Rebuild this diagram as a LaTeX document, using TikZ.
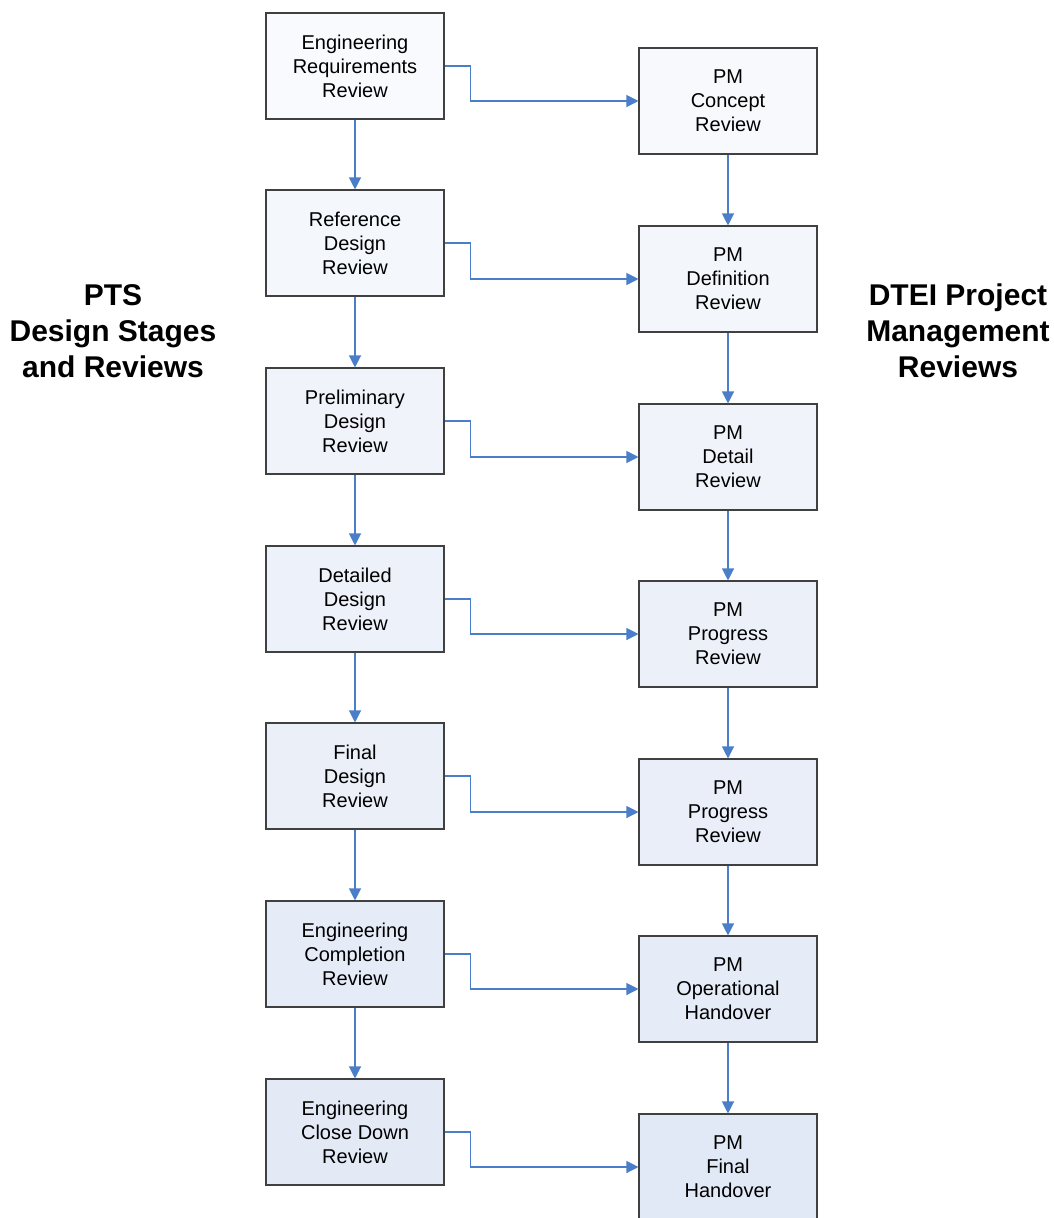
\documentclass[tikz,border=0pt]{standalone}
\usepackage{fontspec}
\setmainfont{Liberation Sans}
\usetikzlibrary{arrows.meta}
\definecolor{arr}{RGB}{74,126,200}
\definecolor{bfill}{RGB}{226,233,246}
\begin{document}
\begin{tikzpicture}[x=1pt,y=-1pt,
  box/.style={draw=black!75, line width=1.1pt, minimum width=178pt, minimum height=106pt,
    align=center, font=\fontsize{20}{24}\selectfont, inner sep=0pt},
  con/.style={draw=arr, line width=1.2pt, -{Triangle[length=12pt,width=12pt,fill=arr]}},
  title/.style={font=\bfseries\fontsize{30}{36}\selectfont, align=center}]
\useasboundingbox (0,0) rectangle (1053,1218);
% left column
\node[box, fill=bfill!25] (L1) at (355,66) {Engineering\\Requirements\\Review};
\node[box, fill=bfill!38] (L2) at (355,243) {Reference\\Design\\Review};
\node[box, fill=bfill!50] (L3) at (355,421) {Preliminary\\Design\\Review};
\node[box, fill=bfill!62] (L4) at (355,599) {Detailed\\Design\\Review};
\node[box, fill=bfill!74] (L5) at (355,776) {Final\\Design\\Review};
\node[box, fill=bfill!86] (L6) at (355,954) {Engineering\\Completion\\Review};
\node[box, fill=bfill!97] (L7) at (355,1132) {Engineering\\Close Down\\Review};
% right column
\node[box, fill=bfill!28] (R1) at (728,101) {PM\\Concept\\Review};
\node[box, fill=bfill!40] (R2) at (728,279) {PM\\Definition\\Review};
\node[box, fill=bfill!52] (R3) at (728,457) {PM\\Detail\\Review};
\node[box, fill=bfill!64] (R4) at (728,634) {PM\\Progress\\Review};
\node[box, fill=bfill!76] (R5) at (728,812) {PM\\Progress\\Review};
\node[box, fill=bfill!88] (R6) at (728,989) {PM\\Operational\\Handover};
\node[box, fill=bfill!100] (R7) at (728,1167) {PM\\Final\\Handover};
% titles
\node[title] (TL) at (113,331) {PTS\\Design Stages\\and Reviews};
\node[title] (TR) at (958,331) {DTEI Project\\Management\\Reviews};
% connectors
\foreach \i/\j in {1/2,2/3,3/4,4/5,5/6,6/7}{
  \draw[con] (L\i.south) -- (L\j.north);
  \draw[con] (R\i.south) -- (R\j.north);
}
\foreach \i in {1,...,7}{
  \draw[con] (L\i.east) -- ++(26,0) |- (R\i.west);
}
\end{tikzpicture}
\end{document}
